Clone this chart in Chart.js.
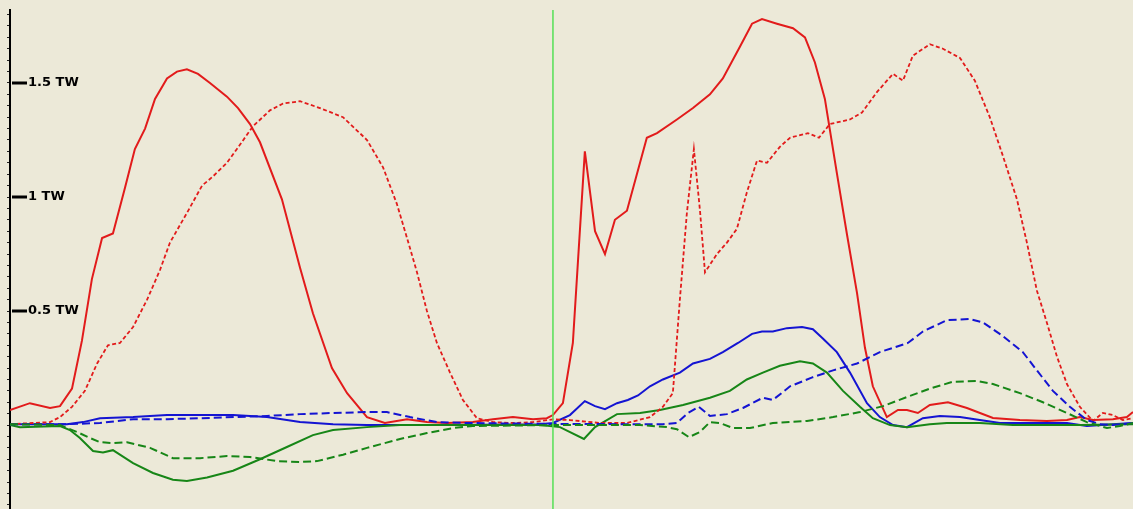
<!DOCTYPE html>
<html><head><meta charset="utf-8">
<script src="https://cdn.jsdelivr.net/npm/chart.js@4/dist/chart.umd.min.js"></script>
<style>html,body{margin:0;padding:0;background:#ECE9D8;overflow:hidden}canvas{display:block}</style>
</head><body>
<canvas id="c" width="1133" height="509"></canvas>
<script>
// time in hours, power in TW
const redSolidT = [0,0.88,1.77,2.21,2.74,3.18,3.62,4.07,4.55,5.08,5.52,5.97,6.41,6.94,7.38,7.82,8.31,8.84,9.59,10.08,10.61,11.05,12.02,12.82,13.39,14.23,14.90,15.78,16.57,17.55,18.43,19.31,20.46,21.35,22.23,23.12,23.73,24.0,24.44,24.88,25.41,25.86,26.30,26.74,27.27,28.15,28.60,29.48,30.19,30.94,31.51,32.27,32.80,33.24,33.90,34.61,35.14,35.58,36.02,36.55,36.99,37.44,37.79,38.14,38.76,39.25,39.65,40.13,40.66,41.46,42.30,43.45,44.64,45.83,46.72,47.29,47.87,48.75,49.37,49.64];
const redSolidV = [0.066,0.096,0.075,0.083,0.16,0.37,0.64,0.82,0.84,1.04,1.21,1.30,1.43,1.52,1.55,1.56,1.54,1.50,1.44,1.39,1.32,1.24,0.99,0.69,0.49,0.25,0.14,0.035,0.009,0.026,0.013,0.009,0.013,0.026,0.035,0.026,0.03,0.044,0.096,0.36,1.20,0.85,0.75,0.90,0.94,1.26,1.28,1.34,1.39,1.45,1.52,1.66,1.76,1.78,1.76,1.74,1.70,1.59,1.43,1.105,0.84,0.58,0.34,0.17,0.035,0.066,0.066,0.053,0.088,0.10,0.075,0.031,0.022,0.018,0.022,0.035,0.022,0.026,0.035,0.057];

const redDashT = [0,1.02,1.77,2.21,2.74,3.31,3.85,4.33,4.86,5.44,6.06,6.63,7.07,7.82,8.49,8.97,9.59,10.17,10.74,11.49,12.07,12.82,13.70,14.72,15.78,16.49,17.10,17.55,17.99,18.43,18.87,19.45,20.02,20.64,21.35,22.23,23.12,24.0,24.75,26.08,27.27,28.29,28.86,29.30,29.61,29.92,30.23,30.50,30.72,31.25,31.69,32.13,32.57,33.02,33.46,34.03,34.48,35.27,35.76,36.24,37.13,37.66,38.32,39.03,39.47,39.91,40.66,41.24,41.99,42.65,43.31,43.89,44.51,44.95,45.39,45.83,46.28,46.72,47.29,47.87,48.31,48.75,49.19,49.64];
const redDashV = [0.004,0.009,0.013,0.035,0.08,0.15,0.27,0.35,0.36,0.43,0.55,0.68,0.80,0.93,1.05,1.09,1.15,1.23,1.31,1.38,1.41,1.42,1.39,1.35,1.25,1.13,0.97,0.82,0.67,0.50,0.36,0.23,0.11,0.03,0.013,0.009,0.013,0.025,0.022,0.009,0.009,0.035,0.08,0.14,0.55,0.93,1.21,0.94,0.67,0.75,0.80,0.86,1.02,1.16,1.15,1.22,1.26,1.28,1.26,1.32,1.34,1.37,1.46,1.54,1.51,1.62,1.67,1.65,1.61,1.51,1.35,1.18,0.99,0.80,0.59,0.45,0.30,0.18,0.08,0.018,0.053,0.044,0.022,0.03];

const blueSolidT = [0,2.52,3.23,3.98,5.44,6.94,9.86,11.36,12.82,14.28,15.78,19.45,23.43,24.0,24.75,25.41,25.86,26.30,26.83,27.31,27.76,28.29,28.86,29.61,30.19,30.94,31.51,32.18,32.80,33.24,33.72,34.34,35.01,35.49,35.93,36.55,37.13,37.88,38.45,39.03,39.65,40.35,41.10,41.99,42.87,43.76,45.08,46.72,47.60,48.75,49.64];
const blueSolidV = [0.004,0.004,0.013,0.03,0.035,0.044,0.044,0.035,0.013,0.004,0,0,0.004,0.009,0.044,0.105,0.083,0.07,0.096,0.11,0.13,0.17,0.20,0.23,0.27,0.29,0.32,0.36,0.40,0.41,0.41,0.425,0.43,0.42,0.38,0.32,0.23,0.096,0.035,0,-0.009,0.03,0.04,0.035,0.022,0.009,0.009,0.009,-0.004,0.004,0.009];

const blueDashT = [0,2.52,3.98,5.44,6.94,8.40,11.36,12.82,14.28,15.78,16.66,17.68,18.87,20.20,24.0,27.09,28.86,29.48,29.97,30.45,30.94,31.69,32.40,33.28,33.72,34.48,35.49,36.38,37.44,38.45,39.69,40.35,41.41,42.43,43.01,43.89,44.77,45.39,46.10,46.85,47.60,48.18,48.75,49.64];
const blueDashV = [0.004,0.004,0.009,0.026,0.026,0.03,0.04,0.048,0.053,0.057,0.057,0.035,0.013,0.009,0.005,0.004,0.004,0.009,0.053,0.08,0.04,0.048,0.075,0.12,0.11,0.17,0.21,0.24,0.27,0.32,0.36,0.41,0.46,0.465,0.45,0.39,0.32,0.24,0.15,0.08,0.022,0.004,0,0.009];

const greenSolidT = [0,0.44,2.21,2.65,3.09,3.67,4.11,4.55,5.44,6.32,7.20,7.82,8.71,9.86,11.05,12.24,13.39,14.28,15.78,17.24,23.43,24.31,25.37,25.86,26.83,27.85,28.73,29.75,30.94,31.82,32.57,33.28,34.03,34.92,35.49,36.11,36.82,37.57,38.14,38.90,39.65,40.66,41.41,42.87,44.33,47.29,49.64];
const greenSolidV = [0,-0.009,-0.004,-0.022,-0.057,-0.114,-0.12,-0.11,-0.167,-0.21,-0.24,-0.245,-0.23,-0.20,-0.15,-0.096,-0.044,-0.022,-0.009,0,0,-0.009,-0.061,-0.009,0.048,0.053,0.066,0.088,0.12,0.15,0.20,0.23,0.26,0.28,0.27,0.23,0.15,0.08,0.03,0,-0.009,0.004,0.009,0.009,0,0,0.004];

const greenDashT = [0,2.21,2.96,3.54,3.98,4.55,5.17,6.19,7.20,8.40,9.59,10.61,11.80,12.82,13.57,14.72,15.78,17.24,18.43,19.58,20.46,24.0,27.85,29.04,29.48,30.01,30.50,30.94,31.38,31.96,32.71,33.72,35.23,36.38,37.57,38.59,39.65,40.66,41.68,42.74,43.45,44.64,45.66,46.72,47.60,48.49,49.06,49.64];
const greenDashV = [0.004,0,-0.03,-0.057,-0.075,-0.079,-0.075,-0.10,-0.145,-0.145,-0.136,-0.14,-0.158,-0.162,-0.158,-0.13,-0.10,-0.061,-0.035,-0.013,-0.004,0,0,-0.009,-0.018,-0.053,-0.03,0.013,0.009,-0.013,-0.013,0.009,0.018,0.035,0.057,0.083,0.123,0.16,0.19,0.193,0.18,0.14,0.10,0.053,0.013,-0.013,-0.004,0.009];

const markerHour = 24;
const tickValues = [];
for (let k = -7; k <= 36; k++) tickValues.push(k * 0.05);
const labelValues = [0.5, 1, 1.5];
const labelTexts = ['0.5 TW', '1 TW', '1.5 TW'];

const Y_MIN = -0.368, Y_MAX = 1.82, X_MIN = 0, X_MAX = 49.64;

const zip = (t, v) => t.map((x, i) => ({x, y: v[i]}));
const RED = '#e21b1b', BLUE = '#1414d2', GREEN = '#178617';

const majorTicks = {
  id: 'majorTicks',
  afterDraw(chart) {
    const y = chart.scales.y, ctx = chart.ctx;
    ctx.save();
    ctx.strokeStyle = '#000';
    ctx.lineWidth = 3;
    labelValues.forEach(v => {
      const py = Math.round(y.getPixelForValue(v));
      ctx.beginPath();
      ctx.moveTo(12, py);
      ctx.lineTo(27, py);
      ctx.stroke();
    });
    ctx.restore();
  }
};

new Chart(document.getElementById('c'), {
  type: 'line',
  data: {
    datasets: [
      {data: [{x: markerHour, y: Y_MIN}, {x: markerHour, y: Y_MAX}], borderColor: '#55e055', borderWidth: 1.5},
      {data: zip(greenDashT, greenDashV), borderColor: GREEN, borderWidth: 2, borderDash: [8, 4]},
      {data: zip(blueDashT, blueDashV), borderColor: BLUE, borderWidth: 2, borderDash: [8, 4]},
      {data: zip(redDashT, redDashV), borderColor: RED, borderWidth: 1.8, borderDash: [4, 2.5]},
      {data: zip(greenSolidT, greenSolidV), borderColor: GREEN, borderWidth: 2},
      {data: zip(blueSolidT, blueSolidV), borderColor: BLUE, borderWidth: 2},
      {data: zip(redSolidT, redSolidV), borderColor: RED, borderWidth: 2}
    ]
  },
  options: {
    responsive: false,
    animation: false,
    layout: {padding: {left: 7, top: 10, right: 0, bottom: 0}},
    elements: {point: {radius: 0}, line: {tension: 0, fill: false}},
    plugins: {legend: {display: false}, tooltip: {enabled: false}},
    scales: {
      x: {type: 'linear', min: X_MIN, max: X_MAX, display: false},
      y: {
        type: 'linear', min: Y_MIN, max: Y_MAX,
        afterBuildTicks: s => { s.ticks = tickValues.map(v => ({value: v})); },
        afterFit: s => { s.width = 3; s.paddingTop = 0; s.paddingBottom = 0; },
        border: {display: true, color: '#000', width: 2},
        grid: {drawOnChartArea: false, drawTicks: true, tickLength: 3, tickColor: '#222', tickWidth: 1},
        ticks: {
          mirror: true, padding: 18, color: '#000',
          font: {family: 'DejaVu Sans', weight: 'bold', size: 13},
          autoSkip: false,
          callback: v => {
            const i = labelValues.findIndex(l => Math.abs(l - v) < 1e-6);
            return i >= 0 ? labelTexts[i] : '';
          }
        }
      }
    }
  },
  plugins: [majorTicks]
});
</script>
</body></html>
